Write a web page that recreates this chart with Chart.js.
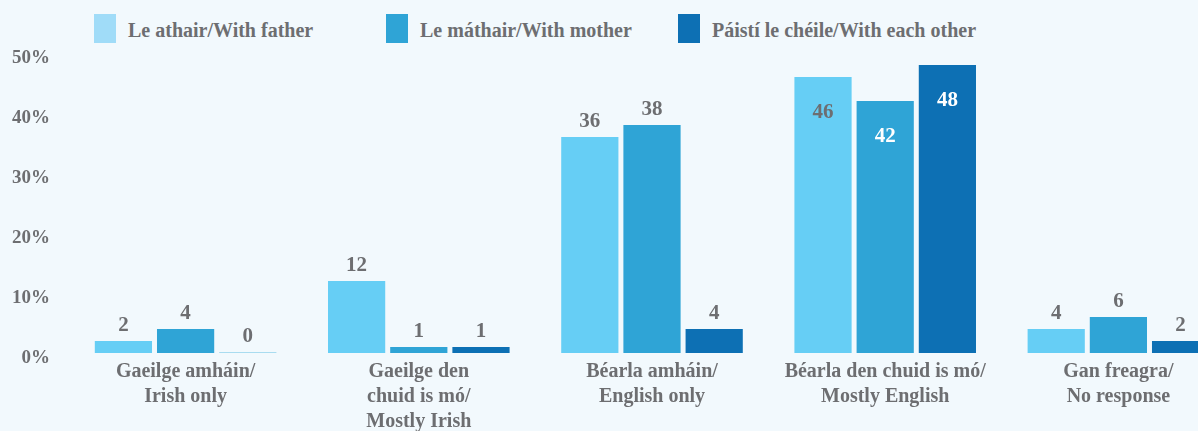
<!DOCTYPE html>
<html>
<head>
<meta charset="utf-8">
<script src="https://cdn.jsdelivr.net/npm/chart.js@4"></script>
<style>
  html, body { margin: 0; padding: 0; background: #f2f9fd; overflow: hidden; }
  #wrap { position: absolute; left: 0; top: 0; width: 1236px; height: 431px; }
  #legend { position: absolute; left: 0; top: 0; width: 1198px; height: 50px; }
  .item { position: absolute; top: 14px; height: 29px; white-space: nowrap; }
  .box { position: absolute; left: 0; top: 0; width: 22px; height: 29px; }
  .txt { position: absolute; left: 34px; top: 5px; line-height: 29px;
         font: bold 20px "Liberation Serif", serif; color: #6d6e71; }
</style>
</head>
<body>
<div id="legend"></div>
<div id="wrap"><canvas id="myChart"></canvas></div>
<script>
var categories = [
  ['Gaeilge amháin/', 'Irish only'],
  ['Gaeilge den', 'chuid is mó/', 'Mostly Irish'],
  ['Béarla amháin/', 'English only'],
  ['Béarla den chuid is mó/', 'Mostly English'],
  ['Gan freagra/', 'No response']
];
var seriesNames = ['Le athair/With father', 'Le máthair/With mother', 'Páistí le chéile/With each other'];
var withFather = [2, 12, 36, 46, 4];
var withMother = [4, 1, 38, 42, 6];
var withEachOther = [0, 1, 4, 48, 2];
var yTicks = [0, 10, 20, 30, 40, 50];

var barColors = ['#66cef5', '#2fa4d6', '#0d70b4'];
var legendColors = ['#a0dcf8', '#2fa4d6', '#0d70b4'];
var grey = '#6d6e71';

// legend drawn as html so item spacing can match
var legend = document.getElementById('legend');
seriesNames.forEach(function (name, i) {
  var item = document.createElement('div');
  item.className = 'item';
  item.style.left = (94 + i * 292) + 'px';
  item.innerHTML = '<span class="box" style="background:' + legendColors[i] + '"></span><span class="txt"></span>';
  item.querySelector('.txt').textContent = name;
  legend.appendChild(item);
});

// value labels above bars (inside near the top for the tall ones)
var valueLabels = {
  id: 'valueLabels',
  afterDatasetsDraw: function (chart) {
    var ctx = chart.ctx;
    ctx.save();
    ctx.font = 'bold 21px "Liberation Serif", serif';
    ctx.textAlign = 'center';
    ctx.textBaseline = 'middle';
    chart.data.datasets.forEach(function (ds, di) {
      chart.getDatasetMeta(di).data.forEach(function (bar, i) {
        var v = ds.data[i];
        if (v > 40) {
          ctx.fillStyle = di === 0 ? grey : '#ffffff';
          ctx.fillText(v, bar.x, bar.y + 36);
        } else {
          ctx.fillStyle = grey;
          ctx.fillText(v, bar.x, bar.y - 15);
        }
      });
    });
    ctx.restore();
  }
};

function zeroAware(color) {
  return function (c) { return c.raw === 0 ? '#a9dcf0' : color; };
}

var ctx = document.getElementById('myChart').getContext('2d');
var myChart = new Chart(ctx, {
  type: 'bar',
  data: {
    labels: categories,
    datasets: [
      { label: seriesNames[0], data: withFather, backgroundColor: zeroAware(barColors[0]) },
      { label: seriesNames[1], data: withMother, backgroundColor: zeroAware(barColors[1]) },
      { label: seriesNames[2], data: withEachOther, backgroundColor: zeroAware(barColors[2]) }
    ]
  },
  options: {
    responsive: true,
    maintainAspectRatio: false,
    animation: false,
    events: [],
    minBarLength: 1,
    categoryPercentage: 0.8,
    barPercentage: 0.92,
    layout: { padding: { left: 10, top: 53, right: 1, bottom: 0 } },
    plugins: {
      legend: { display: false },
      tooltip: { enabled: false }
    },
    scales: {
      x: {
        grid: { display: false, drawTicks: false },
        border: { display: false },
        afterFit: function (s) { s.height = 78; },
        ticks: {
          autoSkip: false,
          maxRotation: 0,
          padding: 6,
          color: grey,
          font: { family: '"Liberation Serif", serif', size: 20, weight: 'bold', lineHeight: '25px' }
        }
      },
      y: {
        min: 0,
        max: 50,
        grid: { display: false, drawTicks: false },
        border: { display: false },
        afterFit: function (s) { s.width = 59; },
        afterBuildTicks: function (s) { s.ticks = yTicks.map(function (v) { return { value: v }; }); },
        ticks: {
          padding: 19,
          labelOffset: 5,
          color: grey,
          font: { family: '"Liberation Serif", serif', size: 19, weight: 'bold' },
          callback: function (v) { return v + '%'; }
        }
      }
    }
  },
  plugins: [valueLabels]
});
</script>
</body>
</html>
